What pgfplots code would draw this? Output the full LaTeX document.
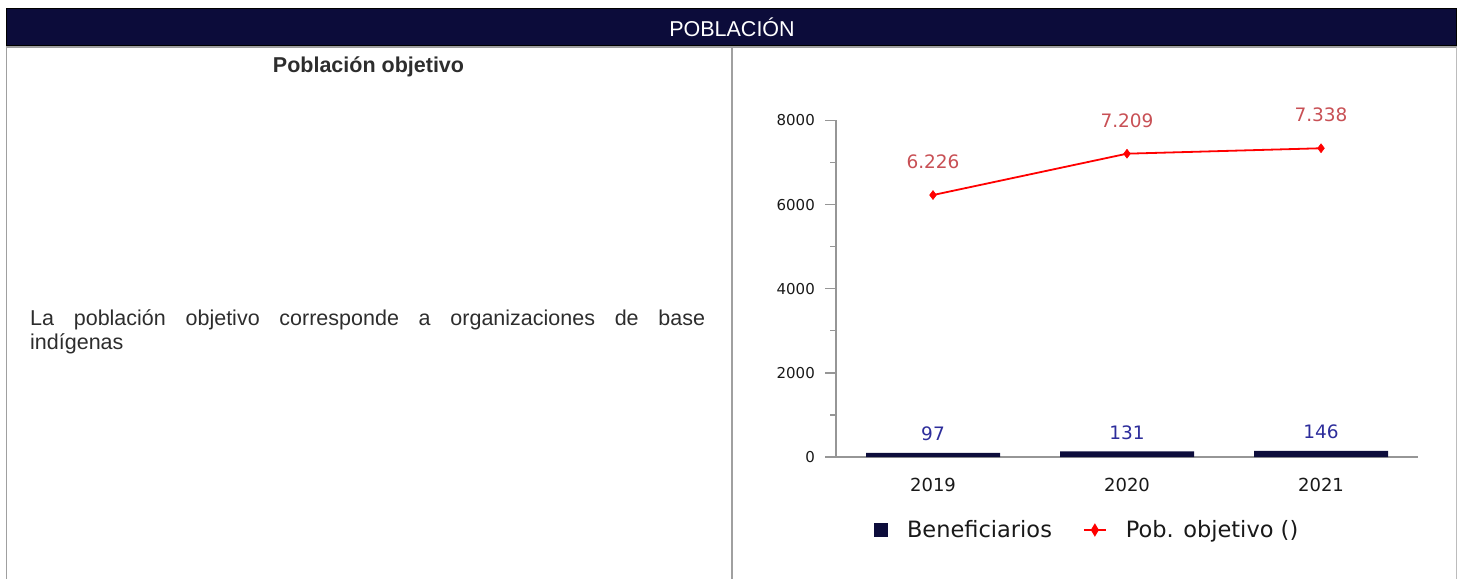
\documentclass[border=0pt]{standalone}
\usepackage{fontspec}
\setmainfont{Liberation Sans}
\newfontfamily\dejavu{DejaVu Sans}
\usepackage{pgfplots}
\usepackage{pgfplotstable}
\pgfplotsset{compat=1.18}
\definecolor{navy}{RGB}{12,12,58}
\definecolor{barnavy}{RGB}{13,13,60}
\definecolor{cellgrey}{RGB}{160,160,160}
\definecolor{axisgrey}{RGB}{150,150,150}
\definecolor{barlbl}{RGB}{45,45,155}
\definecolor{linelbl}{RGB}{200,80,85}
\definecolor{ticktxt}{RGB}{25,25,25}
\definecolor{bodytxt}{RGB}{45,45,45}

\pgfplotstableread{
x bene pob plabel
0 97 6226 6.226
1 131 7209 7.209
2 146 7338 7.338
}\datatable

\begin{document}
\begin{tikzpicture}[x=1pt,y=1pt]
\path[use as bounding box] (0,0) rectangle (1457,579);
% header bar
\fill[black] (6,571) rectangle (1457,533);
\fill[navy] (7.3,569.7) rectangle (1455.7,534.3);
\node[white, anchor=base, inner sep=0pt, font=\fontsize{21.5}{25}\selectfont] at (732,542.3) {POBLACIÓN};
% table lines
\draw[cellgrey, line width=2pt] (6,532) -- (1457,532);
\draw[cellgrey, line width=1.5pt] (6.5,532) -- (6.5,0);
\draw[cellgrey, line width=2pt] (732,532) -- (732,0);
\draw[cellgrey!70, line width=1.2pt] (1456.3,532) -- (1456.3,0);
% left cell text
\node[anchor=base, inner sep=0pt, text=bodytxt, font=\bfseries\fontsize{21.5}{25}\selectfont] at (368.5,506.5) {Población objetivo};
\node[anchor=base west, inner sep=0pt, text=bodytxt, font=\fontsize{21.5}{25}\selectfont] at (30,253) {\makebox[675pt][s]{La población objetivo corresponde a organizaciones de base}};
\node[anchor=base west, inner sep=0pt, text=bodytxt, font=\fontsize{21.5}{25}\selectfont] at (30,229) {indígenas};
% chart
\begin{axis}[
  at={(836pt,122pt)}, anchor=south west,
  scale only axis, width=582pt, height=336.6pt,
  xmin=-0.5, xmax=2.5, ymin=0, ymax=8000,
  clip=false,
  axis x line*=bottom, axis y line*=left,
  axis line style={axisgrey, line width=1.3pt},
  xtick={0,1,2}, xticklabels={2019,2020,2021},
  ytick={0,2000,4000,6000,8000}, yticklabels={0,2000,4000,6000,8000},
  minor ytick={1000,3000,5000,7000},
  tick align=outside,
  major tick length=11pt, minor tick length=6pt,
  tick style={axisgrey, line width=1.3pt},
  xtick style={draw=none},
  yticklabel style={font=\dejavu\fontsize{15}{18}\selectfont, text=ticktxt, inner sep=0pt, anchor=east, xshift=-10pt},
  xticklabel style={font=\dejavu\fontsize{18}{21}\selectfont, text=ticktxt, inner sep=0pt, anchor=north, yshift=-10pt},
  legend style={draw=none, fill=none, inner sep=0pt, outer sep=0pt,
    at={(0.0653,-0.2169)}, anchor=west, legend columns=-1,
    font=\dejavu\fontsize{22.5}{26}\selectfont, text=ticktxt,
    nodes={inner sep=0pt},
    /tikz/every odd column/.append style={column sep=19pt},
    /tikz/every even column/.append style={column sep=31pt}},
]
\addplot[ybar, bar width=134pt, fill=barnavy, draw=none,
  nodes near coords, point meta=explicit symbolic,
  nodes near coords style={font=\dejavu\fontsize{18.5}{22}\selectfont, text=barlbl, inner sep=0pt, anchor=south, yshift=12pt},
  legend image code/.code={\fill[barnavy] (0pt,-7pt) rectangle (14pt,7pt);}]
  table[x=x, y=bene, meta=bene] {\datatable};
\addlegendentry{Beneficiarios}
\addplot[red, line width=1.8pt, mark=diamond*, mark size=4.5pt,
  mark options={fill=red, draw=red, line width=0.5pt},
  nodes near coords, point meta=explicit symbolic,
  nodes near coords style={font=\dejavu\fontsize{18.5}{22}\selectfont, text=linelbl, inner sep=0pt, anchor=south, yshift=26pt},
  legend image code/.code={\draw[red, line width=1.8pt] (0pt,0pt) -- (22pt,0pt); \fill[red] (11pt,5pt) -- (14pt,0pt) -- (11pt,-5pt) -- (8pt,0pt) -- cycle;}]
  table[x=x, y=pob, meta=plabel] {\datatable};
\addlegendentry{Pob. objetivo ()}
\end{axis}
\end{tikzpicture}
\end{document}
